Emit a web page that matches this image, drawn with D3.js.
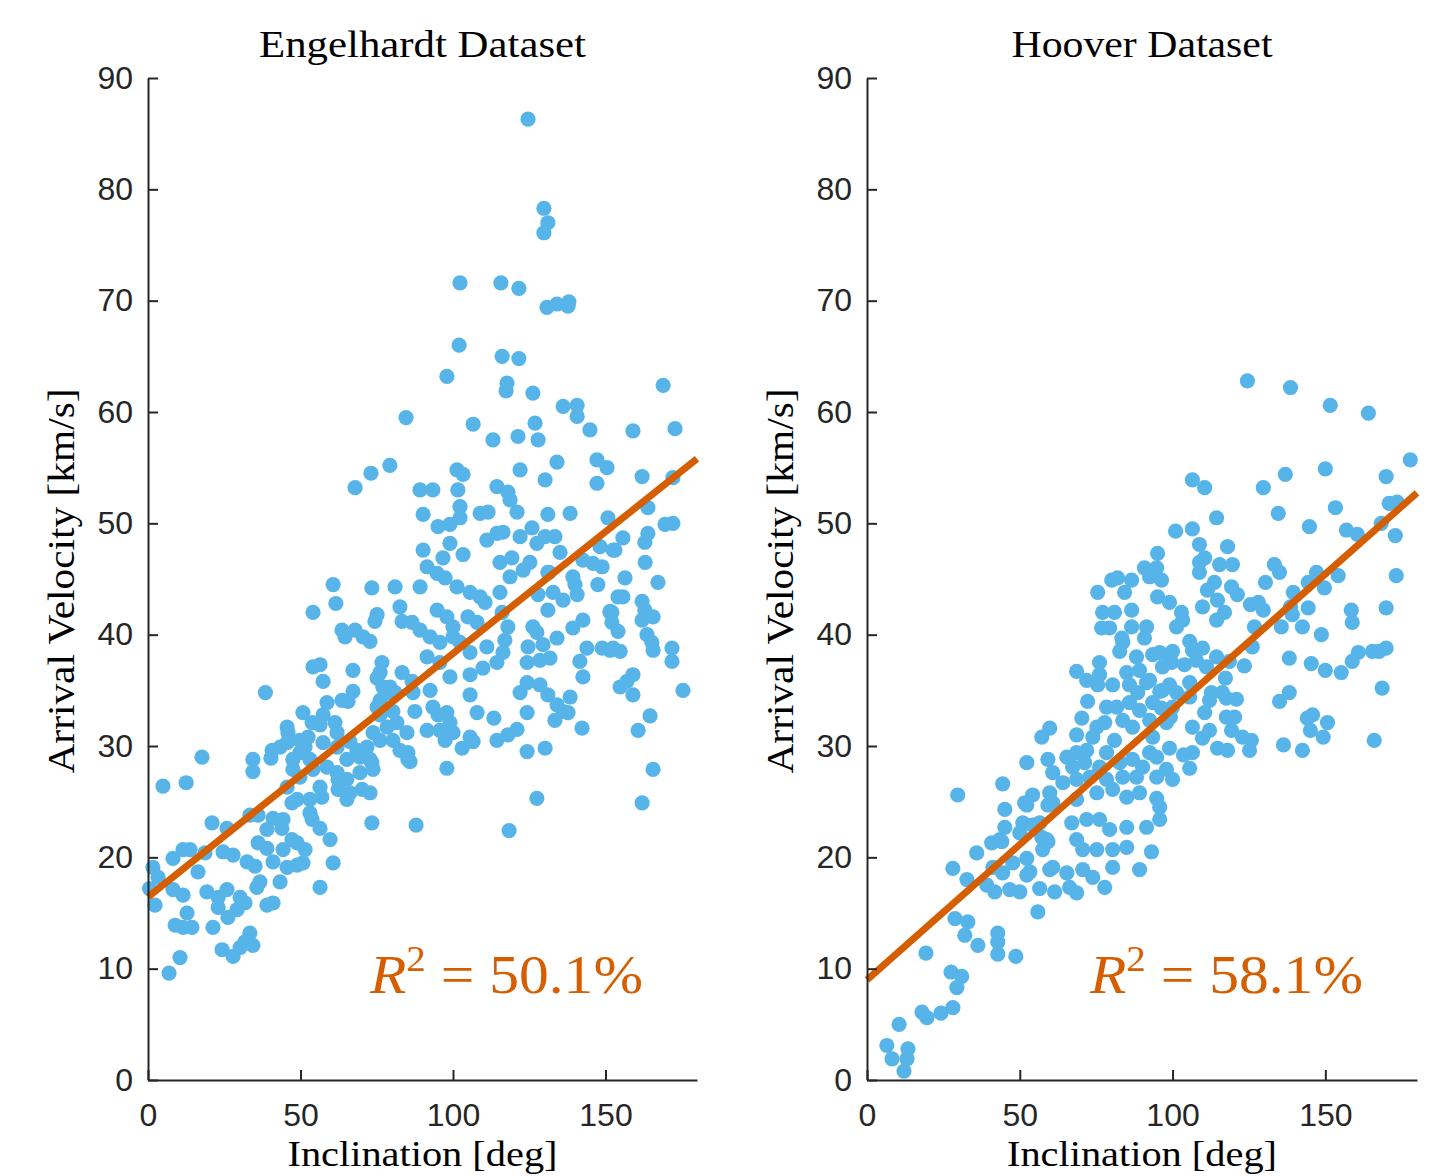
<!DOCTYPE html>
<html>
<head>
<meta charset="utf-8">
<script src="https://cdn.jsdelivr.net/npm/d3@7"></script>
<style>
  html, body { margin: 0; padding: 0; background: #fff; }
  svg { display: block; }
</style>
</head>
<body>
<svg id="chart" width="1435" height="1176"></svg>
<script>
// ---- data (inclination [deg], arrival velocity [km/s]) ----
const titles = ["Engelhardt Dataset", "Hoover Dataset"];
const r2Labels = ["50.1%", "58.1%"];
const fitIntercept = [16.44, 9.0];
const fitSlope = [0.2187, 0.243];
const xTicks = [0, 50, 100, 150];
const yTicks = [0, 10, 20, 30, 40, 50, 60, 70, 80, 90];

const engelhardt = [
  [17.7,29.0],[4.9,26.4],[12.5,26.7],[21.0,23.1],[25.9,22.6],[34.4,28.8],[34.4,27.7],[40.7,29.6],[40.3,28.9],
  [33.4,23.8],[36.1,23.8],[41.0,23.5],[39.0,22.5],[43.9,22.6],[11.5,20.7],[8.2,19.9],[13.8,20.7],[18.7,20.4],
  [24.6,20.5],[27.9,20.2],[36.1,21.3],[39.0,20.8],[32.5,19.6],[35.1,19.2],[1.6,19.1],[3.3,18.2],[0.5,17.2],
  [2.3,15.7],[8.2,17.1],[11.5,16.6],[16.4,18.7],[19.3,16.9],[23.0,16.4],[25.9,17.1],[23.0,15.5],[26.2,14.6],
  [30.2,16.4],[31.8,15.9],[29.2,15.3],[12.8,15.0],[8.9,13.9],[11.5,13.7],[14.4,13.7],[21.3,13.7],[33.4,13.2],
  [31.8,12.4],[34.4,12.1],[30.2,11.9],[24.3,11.7],[27.9,11.1],[10.5,11.0],[6.9,9.6],[41.0,19.6],[45.6,19.1],
  [48.9,19.3],[50.8,19.5],[43.3,17.8],[35.7,17.3],[36.7,17.8],[39.0,15.7],[41.0,15.9],[44.3,20.7],[47.2,21.6],
  [48.9,21.3],[51.5,20.7],[56.4,17.3],[60.7,19.5],[47.2,24.9],[53.1,24.0],[53.8,23.4],[56.4,22.6],[59.7,21.6],
  [44.3,23.4],
  [60.7,44.5],[73.4,44.2],[81.0,44.3],[54.1,42.0],[61.6,42.8],[75.1,41.8],[74.4,41.2],[82.6,42.5],[63.6,40.4],
  [64.6,39.8],[67.9,40.4],[70.5,39.8],[72.8,39.4],[83.3,41.2],[86.6,41.1],[54.1,37.1],[56.4,37.3],[57.4,35.8],
  [67.2,36.8],[76.7,37.5],[76.1,36.6],[75.1,36.1],[83.3,36.6],[77.0,35.3],[79.3,35.3],[78.4,34.8],[76.1,34.1],
  [81.0,34.8],[86.6,35.8],[86.9,34.8],[58.7,33.9],[63.6,34.1],[67.2,34.9],[65.6,34.0],[50.8,33.0],[53.8,32.1],
  [57.4,32.8],[56.4,31.9],[61.3,32.1],[75.1,33.5],[76.1,32.8],[80.3,33.1],[81.6,32.1],[78.4,31.7],[73.8,31.2],
  [76.1,30.5],[80.3,30.5],[87.5,33.1],[93.4,33.5],[95.1,32.8],[98.0,33.0],[99.0,32.1],[91.5,31.4],[95.7,31.4],
  [97.4,30.5],[100.0,31.2],[107.9,33.0],[105.6,30.8],[106.6,30.4],[103.0,29.8],[98.0,28.0],[85.2,29.4],[85.2,28.8],
  [84.9,31.2],[82.6,29.6],[45.6,31.7],[45.9,31.2],[45.6,30.3],[43.3,29.9],[49.8,30.5],[52.5,30.8],[51.5,29.9],
  [57.4,30.3],[62.0,31.2],[62.0,29.9],[66.2,30.4],[68.5,29.6],[71.8,29.9],[65.2,28.8],[69.5,29.0],[72.8,28.8],
  [73.4,28.5],[49.8,29.4],[47.5,28.8],[53.1,28.8],[47.5,27.9],[54.1,27.9],[58.7,28.1],[62.0,27.6],[62.3,27.0],
  [65.2,27.0],[69.5,27.6],[73.8,27.9],[45.6,26.3],[49.8,27.2],[56.4,26.3],[62.3,26.1],[66.2,25.8],[57.0,25.4],
  [65.2,25.2],[70.2,26.1],[72.8,25.8],[48.9,25.2],[53.1,25.2],[85.9,28.6],
  [136.1,60.5],[140.7,59.6],[144.9,58.4],[106.6,58.9],[126.9,59.0],[127.9,57.5],[113.1,57.5],[121.3,57.8],
  [134.1,55.5],[147.2,55.7],[150.5,55.0],[147.2,53.6],[101.3,54.8],[103.3,54.4],[122.0,54.8],[130.2,53.9],
  [101.6,53.0],[114.4,53.3],[118.0,52.8],[118.7,52.1],[121.0,51.0],[89.2,53.0],[93.4,53.0],[102.3,51.5],
  [102.3,50.5],[90.2,50.8],[108.9,50.9],[111.5,51.0],[131.1,50.8],[138.4,50.9],[150.8,50.5],[95.1,49.7],
  [99.0,49.9],[111.1,48.5],[114.4,49.1],[116.4,49.2],[122.0,48.8],[125.9,49.6],[127.5,48.2],[130.2,48.8],
  [133.4,48.8],[135.1,47.4],[99.0,48.2],[90.2,47.6],[96.7,46.9],[103.3,47.2],[115.4,46.5],[119.3,46.9],
  [125.2,46.5],[123.0,45.8],[118.7,45.2],[131.1,45.6],[148.2,47.9],[152.5,47.6],[142.6,46.7],[145.9,46.4],
  [148.9,46.1],[139.3,45.2],[147.5,44.5],[132.8,43.8],[136.1,43.1],[140.7,43.6],[91.5,46.1],[94.8,45.5],
  [97.4,45.1],[89.2,44.3],[101.3,44.3],[105.6,43.8],[108.9,43.4],[110.5,42.9],[115.4,43.8],[127.9,43.6],
  [131.1,42.2],[152.1,42.0],[154.1,43.4],[94.8,42.2],[98.0,41.6],[100.0,40.7],[104.9,41.6],[107.9,41.1],
  [116.1,42.0],[118.0,40.7],[89.2,40.4],[92.5,39.8],[95.7,39.3],[100.0,39.8],[102.3,39.3],[105.6,38.4],
  [111.1,38.9],[116.4,38.4],[117.0,39.5],[126.2,40.7],[127.5,40.2],[129.5,39.1],[134.1,39.7],[124.6,38.9],
  [139.3,40.6],[142.6,41.3],[151.5,42.0],[143.9,38.8],[148.9,38.8],[152.5,38.8],[91.5,38.0],[95.7,37.5],
  [99.0,36.2],[105.6,36.4],[109.8,37.0],[114.4,37.5],[124.3,37.5],[128.5,37.7],[131.8,37.9],[141.6,37.6],
  [142.6,36.2],[124.3,35.7],[128.5,35.5],[122.0,34.8],[131.1,34.6],[138.4,34.4],[105.6,34.6],[92.5,35.0],
  [154.8,35.3],
  [140.7,60.6],[159.0,58.3],[172.8,58.5],[168.9,62.4],[162.0,54.2],[172.1,54.1],[163.9,51.4],[169.5,49.9],
  [172.1,50.0],[163.9,49.1],[162.9,48.3],[155.7,48.7],[153.1,47.6],[131.5,45.6],[140.0,44.5],[156.4,45.1],
  [163.0,46.5],[167.2,44.7],[155.7,43.4],[151.5,42.1],[152.1,41.1],[154.1,40.3],[162.0,43.0],[162.9,42.2],
  [165.6,41.6],[162.0,41.3],[163.6,40.0],[165.2,39.3],[165.6,38.6],[171.8,38.8],[171.8,37.6],[175.4,35.0],
  [151.5,38.6],[154.8,38.5],[134.1,33.7],[136.1,33.1],[137.7,33.0],[133.4,32.3],[142.3,31.6],[124.3,33.0],
  [124.3,29.5],[130.2,29.8],[159.0,36.4],[157.0,35.8],[159.0,34.6],[164.6,32.7],[160.7,31.4],[165.6,27.9],
  [127.5,25.3],[162.0,24.9],
  [124.6,86.3],[129.8,78.3],[131.1,77.0],[129.8,76.1],[102.3,71.6],[115.7,71.6],[121.6,71.1],[130.8,69.4],
  [134.1,69.7],[138.0,69.9],[137.7,69.5],[102.0,66.0],[116.1,65.0],[121.6,64.8],[98.0,63.2],[117.7,62.6],
  [117.4,61.9],[126.2,61.7],
  [38.5,34.8],[67.9,53.2],[73.1,54.5],[79.3,55.2],[84.6,59.5],[87.9,22.9],[73.4,23.1],[114.4,30.5],
  [118.0,31.0],[113.4,32.5],[121.0,31.5],[118.4,22.4]
];

const hoover = [
  [45.1,24.3],[52.3,24.7],[59.2,24.7],[51.0,23.1],[54.2,22.9],[50.0,22.2],[57.2,21.8],[59.2,21.4],[57.5,20.7],
  [40.8,21.3],[44.1,21.4],[35.9,20.4],[28.1,19.0],[41.2,19.1],[44.4,18.6],[47.7,19.5],[52.3,19.9],[53.3,18.7],
  [52.3,18.4],[59.8,18.9],[32.7,18.0],[39.2,17.5],[41.8,16.9],[46.7,17.1],[50.0,16.9],[56.5,17.2],[61.4,16.9],
  [55.9,15.1],[28.8,14.5],[33.0,14.2],[32.0,13.0],[36.3,12.1],[42.8,13.2],[42.8,12.4],[42.8,11.3],[48.7,11.1],
  [19.3,11.4],[27.5,9.7],[31.0,9.3],[29.4,8.3],[18.0,6.1],[19.6,5.6],[24.2,6.0],[28.1,6.5],[10.5,5.0],
  [6.5,3.1],[8.2,1.9],[13.4,2.8],[13.1,1.9],[12.1,0.8],
  [76.8,40.6],[79.4,40.6],[86.6,40.7],[91.5,40.7],[90.8,39.7],[83.7,39.3],[82.7,38.5],[88.2,38.0],[93.5,38.2],
  [95.8,38.4],[100.0,38.5],[99.7,37.5],[76.1,37.5],[68.6,36.7],[71.9,35.9],[76.1,36.4],[75.5,35.5],[80.4,35.5],
  [85.0,36.6],[89.2,36.8],[85.9,35.5],[91.5,35.7],[95.8,34.9],[99.0,35.5],[88.6,34.8],[72.2,34.0],[78.4,33.5],
  [81.7,33.5],[85.9,33.9],[89.2,33.2],[93.5,33.9],[96.4,33.4],[100.0,33.5],[70.3,32.5],[75.2,31.7],[77.8,32.1],
  [83.7,32.3],[86.9,31.7],[92.5,32.3],[98.0,32.1],[59.8,31.6],[57.2,30.8],[68.6,31.0],[73.9,30.8],[81.0,30.5],
  [93.5,30.8],[99.0,29.8],[52.3,28.5],[59.2,28.8],[65.4,29.0],[68.6,29.4],[71.9,29.6],[78.4,29.4],[67.3,28.1],
  [71.2,28.5],[76.1,28.1],[82.7,28.5],[86.9,28.8],[90.2,28.1],[94.8,29.0],[98.0,27.9],[60.8,27.6],[64.1,26.7],
  [68.6,27.0],[72.9,27.2],[78.4,27.0],[83.7,27.2],[88.2,27.2],[94.8,27.2],[100.0,27.0],[54.2,25.6],[51.6,24.9],
  [59.8,25.8],[60.8,24.9],[68.6,25.2],[75.2,25.8],[80.4,26.1],[85.0,25.4],[89.2,25.8],[94.8,25.3],[95.8,24.5],
  [45.1,22.7],[56.5,23.1],[58.8,21.6],[67.0,23.1],[71.9,23.4],[76.1,23.4],[79.4,22.5],[85.0,22.7],[91.5,22.7],
  [95.8,23.4],[68.6,21.6],[70.6,20.7],[75.2,20.7],[80.4,20.7],[85.0,20.9],[93.1,20.5],[60.8,19.1],[65.4,18.6],
  [70.6,18.9],[73.9,18.2],[80.4,19.1],[89.2,18.9],[66.3,17.3],[68.6,16.8],[77.8,17.3],[43.5,21.6],
  [124.5,62.8],[138.6,62.2],[151.6,60.6],[164.1,59.9],[177.8,55.7],[150.0,54.9],[136.9,54.4],[169.9,54.2],
  [106.5,53.9],[110.5,53.2],[129.7,53.2],[134.6,50.9],[153.3,51.4],[114.4,50.5],[144.8,49.7],[101.0,49.3],
  [106.5,49.5],[156.9,49.4],[160.5,49.0],[170.9,51.8],[173.5,51.9],[168.3,50.0],[172.9,48.9],[108.8,48.1],
  [118.0,47.9],[95.1,47.3],[94.1,45.8],[96.4,44.9],[108.8,46.5],[110.5,46.9],[108.8,45.6],[115.4,46.3],
  [119.6,46.3],[133.3,46.3],[135.0,45.6],[147.1,45.6],[154.2,45.3],[173.2,45.3],[130.4,44.7],[144.4,44.7],
  [149.7,44.2],[113.7,44.7],[111.4,44.0],[119.3,44.3],[121.2,43.6],[95.1,43.4],[99.0,42.9],[102.9,42.0],
  [109.8,42.5],[114.7,43.1],[117.0,42.0],[114.4,41.3],[125.5,42.7],[128.1,42.9],[129.7,42.2],[139.5,43.8],
  [138.6,42.5],[139.2,41.8],[144.4,42.4],[135.6,40.7],[142.5,40.7],[148.7,40.0],[158.5,42.2],[158.8,41.1],
  [169.9,42.4],[126.8,40.7],[126.1,38.9],[109.8,38.8],[114.4,38.0],[105.6,39.4],[101.3,40.7],[103.3,41.3],
  [103.9,37.3],[111.1,37.1],[118.6,37.6],[123.5,37.2],[117.3,36.1],[138.2,37.9],[145.4,37.4],[150.0,36.8],
  [155.2,36.6],[158.8,37.6],[160.8,38.4],[165.4,38.5],[167.6,38.5],[169.9,38.8],[168.6,35.2],[138.2,34.8],
  [135.0,34.0],[144.1,32.5],[145.8,32.8],[145.1,31.4],[150.7,32.1],[149.3,30.8],[166.0,30.5],[136.3,30.1],
  [142.5,29.6],[117.6,34.3],[120.9,34.2],[117.6,32.6],[120.3,32.6],[119.3,31.4],[122.9,30.8],[125.8,30.5],
  [125.2,29.6],[114.7,29.8],[118.0,29.6],[112.7,34.8],[112.1,34.1],[110.5,33.0],[112.1,31.4],[109.8,30.7],
  [106.5,31.7],[106.5,29.4],[103.6,29.2],[92.5,29.4],[99.3,32.6],[96.7,35.0],[105.6,35.7],[101.3,34.8],
  [96.7,37.1],[99.0,37.6],[92.5,35.9],[106.5,38.6],[107.8,37.7],[105.6,34.4],[116.3,34.8],
  [90.8,46.0],[94.8,46.0],[92.5,45.2],[86.6,44.9],[82.0,45.1],[80.1,44.9],[84.3,43.8],[75.5,43.8],[77.1,42.0],
  [81.0,42.0],[86.6,42.2],[83.4,39.7],
  [29.7,25.6],[44.4,26.6],[105.6,28.0]
];

const datasets = [engelhardt, hoover];

// ---- layout ----
const svg = d3.select("#chart");
const blue = "#56B4E9", orange = "#D55E00", axisColor = "#262626";
const serif = "'Liberation Serif', 'DejaVu Serif', serif";
const sans = "'Liberation Sans', Arial, sans-serif";
const plotTop = 78, plotBottom = 1080;
const panels = [
  { x0: 148, x1: 697, titleLen: 327, r2x: 370 },
  { x0: 867, x1: 1417, titleLen: 261, r2x: 1090 }
];

panels.forEach((p, i) => {
  const x = d3.scaleLinear().domain([0, 180]).range([p.x0, p.x1]);
  const y = d3.scaleLinear().domain([0, 90]).range([plotBottom, plotTop]);
  const g = svg.append("g");
  const cx = (p.x0 + p.x1) / 2;

  // points
  g.append("g").selectAll("circle")
    .data(datasets[i])
    .join("circle")
      .attr("cx", d => x(d[0]))
      .attr("cy", d => y(d[1]))
      .attr("r", 7.6)
      .attr("fill", blue);

  // regression line
  const fit = v => fitIntercept[i] + fitSlope[i] * v;
  g.append("line")
    .attr("x1", x(0)).attr("y1", y(fit(0)))
    .attr("x2", x(180)).attr("y2", y(fit(180)))
    .attr("stroke", orange)
    .attr("stroke-width", 7);

  // axes, ticks pointing inward
  const ax = g.append("g")
    .attr("transform", "translate(0," + plotBottom + ")")
    .call(d3.axisBottom(x).tickValues(xTicks).tickSizeInner(-10).tickSizeOuter(0).tickPadding(23));
  const ay = g.append("g")
    .attr("transform", "translate(" + p.x0 + ",0)")
    .call(d3.axisLeft(y).tickValues(yTicks).tickSizeInner(-10).tickSizeOuter(0).tickPadding(15));
  [ax, ay].forEach(a => {
    a.select(".domain").attr("stroke", axisColor).attr("stroke-width", 2);
    a.selectAll(".tick line").attr("stroke", axisColor).attr("stroke-width", 2);
    a.selectAll(".tick text")
      .attr("fill", axisColor)
      .style("font-family", sans)
      .style("font-size", "32px");
  });

  // title and labels
  g.append("text")
    .attr("x", cx).attr("y", 57)
    .attr("text-anchor", "middle")
    .attr("textLength", p.titleLen).attr("lengthAdjust", "spacingAndGlyphs")
    .style("font-family", serif).style("font-size", "37px")
    .text(titles[i]);

  g.append("text")
    .attr("x", cx).attr("y", 1166)
    .attr("text-anchor", "middle")
    .attr("textLength", 270).attr("lengthAdjust", "spacingAndGlyphs")
    .style("font-family", serif).style("font-size", "36px")
    .text("Inclination [deg]");

  g.append("text")
    .attr("transform", "translate(" + (p.x0 - 74) + "," + (y(45) + 2) + ") rotate(-90)")
    .attr("text-anchor", "middle")
    .attr("textLength", 385).attr("lengthAdjust", "spacingAndGlyphs")
    .style("font-family", serif).style("font-size", "37px")
    .text("Arrival Velocity [km/s]");

  // R^2 annotation
  const r2 = g.append("text")
    .attr("x", p.r2x).attr("y", 993)
    .attr("fill", orange)
    .attr("textLength", 273).attr("lengthAdjust", "spacingAndGlyphs")
    .style("font-family", serif).style("font-size", "55px");
  r2.append("tspan").style("font-style", "italic").text("R");
  r2.append("tspan").attr("dy", -22).style("font-size", "36px").text("2");
  r2.append("tspan").attr("dy", 22).text(" = " + r2Labels[i]);
});
</script>
</body>
</html>
